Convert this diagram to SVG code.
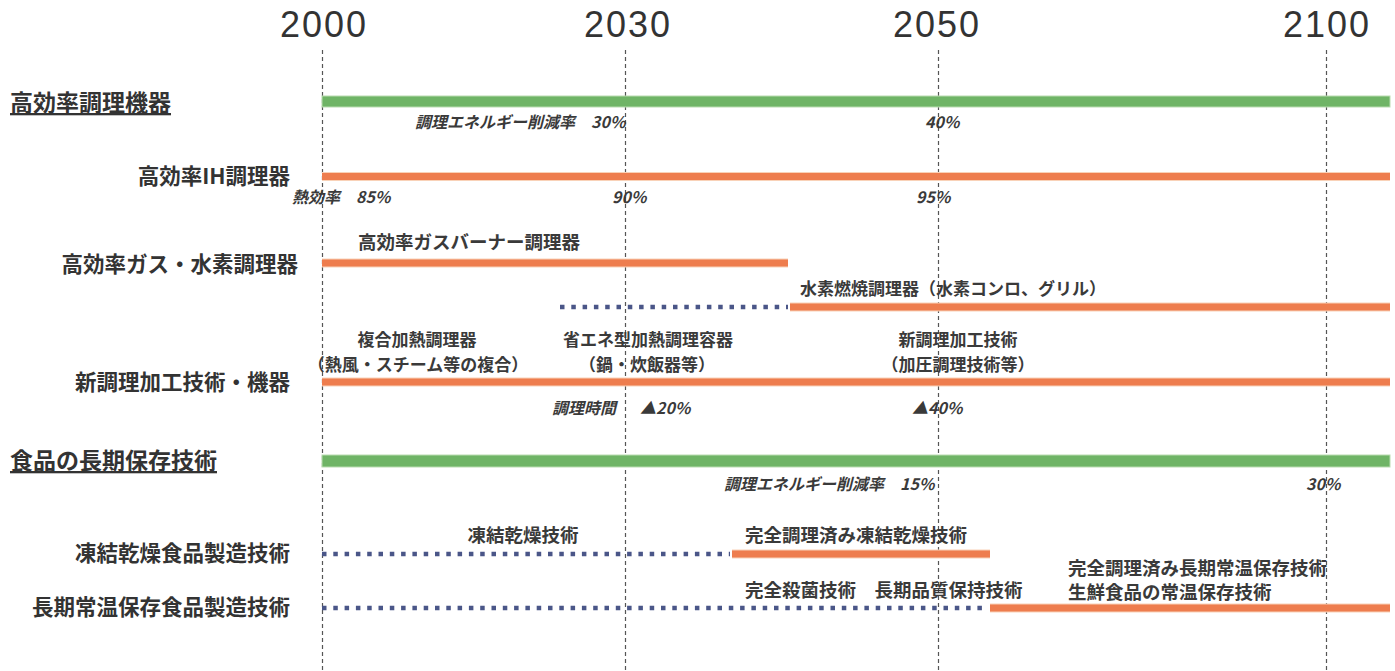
<svg xmlns="http://www.w3.org/2000/svg" width="1395" height="671" viewBox="0 0 1395 671">
<defs>
<style>
.year{font-family:"Liberation Sans","Noto Sans",sans-serif;font-size:36px;fill:#333;text-anchor:middle;letter-spacing:2px}
.head{font-family:"Noto Sans CJK JP",sans-serif;font-size:23px;font-weight:bold;fill:#333;text-decoration:underline}
.row{font-family:"Noto Sans CJK JP",sans-serif;font-size:21.5px;font-weight:bold;fill:#333;text-anchor:end}
.lbl{font-family:"Noto Sans CJK JP",sans-serif;font-size:18.5px;font-weight:bold;fill:#3a3a3a}
.sm{font-size:17px}
.mid{text-anchor:middle}
.it{font-family:"Noto Sans CJK JP",sans-serif;font-size:16px;font-weight:bold;font-style:italic;fill:#3a3a3a}
.grid{stroke:#555;stroke-width:1.2;stroke-dasharray:4 3}
.green{fill:#6fb466;stroke:#b9dcb0;stroke-width:1}
.orange{stroke:#ee7d4e;stroke-width:7}
.orange-edge{stroke:#f9d2b8;stroke-width:9}
.dot{stroke:#4a5688;stroke-width:4.5;stroke-dasharray:4.5 6.8}
</style>
</defs>
<rect width="1395" height="671" fill="#ffffff"/>
<g id="axis">
<text class="year" x="324" y="37">2000</text>
<text class="year" x="628" y="37">2030</text>
<text class="year" x="937" y="37">2050</text>
<text class="year" x="1327" y="37">2100</text>
<line class="grid" x1="322.5" y1="50" x2="322.5" y2="671"/>
<line class="grid" x1="625.5" y1="50" x2="625.5" y2="671"/>
<line class="grid" x1="938.5" y1="50" x2="938.5" y2="671"/>
<line class="grid" x1="1326.5" y1="50" x2="1326.5" y2="671"/>
</g>
<g id="connectors">
<rect class="green" x="322" y="96" width="1068" height="11"/>
<line class="orange-edge" x1="322" y1="176.5" x2="1390" y2="176.5"/>
<line class="orange" x1="322" y1="176.5" x2="1390" y2="176.5"/>
<line class="orange-edge" x1="322" y1="263" x2="788" y2="263"/>
<line class="orange" x1="322" y1="263" x2="788" y2="263"/>
<line class="dot" x1="560" y1="307" x2="788" y2="307"/>
<line class="orange-edge" x1="790" y1="307" x2="1390" y2="307"/>
<line class="orange" x1="790" y1="307" x2="1390" y2="307"/>
<line class="orange-edge" x1="322" y1="382" x2="1390" y2="382"/>
<line class="orange" x1="322" y1="382" x2="1390" y2="382"/>
<rect class="green" x="322" y="455" width="1068" height="12"/>
<line class="dot" x1="322" y1="554" x2="730" y2="554"/>
<line class="orange-edge" x1="732" y1="554" x2="990" y2="554"/>
<line class="orange" x1="732" y1="554" x2="990" y2="554"/>
<line class="dot" x1="322" y1="608" x2="988" y2="608"/>
<line class="orange-edge" x1="990" y1="608" x2="1390" y2="608"/>
<line class="orange" x1="990" y1="608" x2="1390" y2="608"/>
</g>
<g id="cooking-heading">
<text class="head" x="10" y="111">高効率調理機器</text>
<text class="it" x="415" y="128">調理エネルギー削減率　30%</text>
<text class="it" x="925" y="128">40%</text>
</g>
<g id="ih">
<text class="row" x="290" y="184">高効率IH調理器</text>
<text class="it" x="292" y="203">熱効率　85%</text>
<text class="it" x="612" y="203">90%</text>
<text class="it" x="916" y="203">95%</text>
</g>
<g id="gas-hydrogen">
<text class="row" x="298" y="272">高効率ガス・水素調理器</text>
<text class="lbl" x="358" y="249">高効率ガスバーナー調理器</text>
<text class="lbl sm" x="800" y="295">水素燃焼調理器（水素コンロ、グリル）</text>
</g>
<g id="new-cooking">
<text class="row" x="290" y="390">新調理加工技術・機器</text>
<text class="lbl sm mid" x="417" y="346">複合加熱調理器</text>
<text class="lbl sm mid" x="418" y="371">（熱風・スチーム等の複合）</text>
<text class="lbl sm mid" x="648" y="346">省エネ型加熱調理容器</text>
<text class="lbl sm mid" x="647" y="371">（鍋・炊飯器等）</text>
<text class="lbl sm mid" x="958" y="346">新調理加工技術</text>
<text class="lbl sm mid" x="958" y="371">（加圧調理技術等）</text>
<text class="it" x="552" y="414">調理時間</text>
<text class="it" x="640" y="414">▲20%</text>
<text class="it" x="912" y="414">▲40%</text>
</g>
<g id="preservation-heading">
<text class="head" x="10" y="469">食品の長期保存技術</text>
<text class="it" x="724" y="490">調理エネルギー削減率　15%</text>
<text class="it" x="1306" y="490">30%</text>
</g>
<g id="freeze-dry">
<text class="row" x="290" y="561">凍結乾燥食品製造技術</text>
<text class="lbl mid" x="523" y="542">凍結乾燥技術</text>
<text class="lbl" x="745" y="542">完全調理済み凍結乾燥技術</text>
</g>
<g id="long-term">
<text class="row" x="290" y="615">長期常温保存食品製造技術</text>
<text class="lbl" x="745" y="597">完全殺菌技術　長期品質保持技術</text>
<text class="lbl" x="1068" y="575">完全調理済み長期常温保存技術</text>
<text class="lbl" x="1068" y="599">生鮮食品の常温保存技術</text>
</g>
</svg>
